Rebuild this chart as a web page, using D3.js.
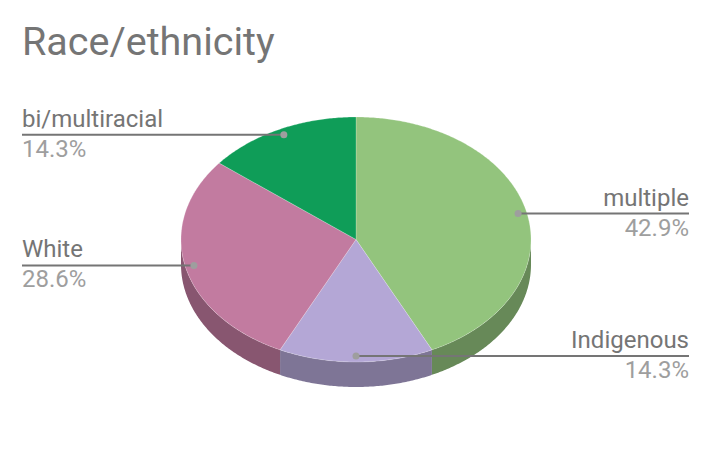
<!DOCTYPE html>
<html><head><meta charset="utf-8">
<script src="https://cdn.jsdelivr.net/npm/d3@7"></script>
<style>
html,body{margin:0;padding:0;background:#fff;}
svg{display:block;font-family:Roboto,sans-serif;}
</style></head>
<body>
<svg id="chart" width="712" height="450"></svg>
<script>
const categories = ["multiple", "Indigenous", "White", "bi/multiracial"];
const counts = [3, 1, 2, 1];
const percentLabels = ["42.9%", "14.3%", "28.6%", "14.3%"];
const topColors = ["#93c47d", "#b4a7d6", "#c27ba0", "#0f9d58"];
const sideColors = ["#678958", "#7e7596", "#885670", "#0b6e3e"];

const svg = d3.select("#chart");
const cx = 356, cy = 239.5, rx = 175, ry = 122.5, depth = 25;

svg.append("text").attr("x", 22).attr("y", 55)
  .attr("fill", "#757575").attr("font-size", 39.5).text("Race/ethnicity");

const pie = d3.pie().sort(null).value(d => d)(counts);

function pt(a, k = 1, dy = 0) {
  return [cx + rx * k * Math.sin(a), cy - ry * k * Math.cos(a) + dy];
}
const line = d3.line();
function arcPts(a0, a1, dy) {
  const n = Math.max(2, Math.ceil(Math.abs(a1 - a0) / 0.01));
  return d3.range(n + 1).map(i => pt(a0 + (a1 - a0) * i / n, 1, dy));
}

const g = svg.append("g");
pie.forEach((d, i) => {
  const a0 = Math.max(d.startAngle, Math.PI / 2);
  const a1 = Math.min(d.endAngle, 3 * Math.PI / 2);
  if (a1 <= a0) return;
  const pts = arcPts(a0, a1, 0).concat(arcPts(a1, a0, depth));
  g.append("path").attr("d", line(pts) + "Z").attr("fill", sideColors[i]);
});
pie.forEach((d, i) => {
  const pts = [[cx, cy]].concat(arcPts(d.startAngle, d.endAngle, 0));
  g.append("path").attr("d", line(pts) + "Z").attr("fill", topColors[i])
    .attr("stroke", "#ffffff").attr("stroke-opacity", 0.35).attr("stroke-width", 0.6);
});

const fs = 24;
pie.forEach((d, i) => {
  const mid = (d.startAngle + d.endAngle) / 2;
  const [dx, dy] = pt(mid, 0.95);
  const right = Math.sin(mid) > 0;
  const ex = right ? 689 : 22;
  svg.append("line").attr("x1", dx).attr("y1", dy).attr("x2", ex).attr("y2", dy)
    .attr("stroke", "#757575").attr("stroke-width", 2);
  svg.append("circle").attr("cx", dx).attr("cy", dy).attr("r", 3.5).attr("fill", "#9e9e9e");
  const anchor = right ? "end" : "start";
  svg.append("text").attr("x", ex).attr("y", dy - 8).attr("text-anchor", anchor)
    .attr("fill", "#757575").attr("font-size", fs).text(categories[i]);
  svg.append("text").attr("x", ex).attr("y", dy + 22).attr("text-anchor", anchor)
    .attr("fill", "#9e9e9e").attr("font-size", fs).text(percentLabels[i]);
});
</script>
</body></html>
